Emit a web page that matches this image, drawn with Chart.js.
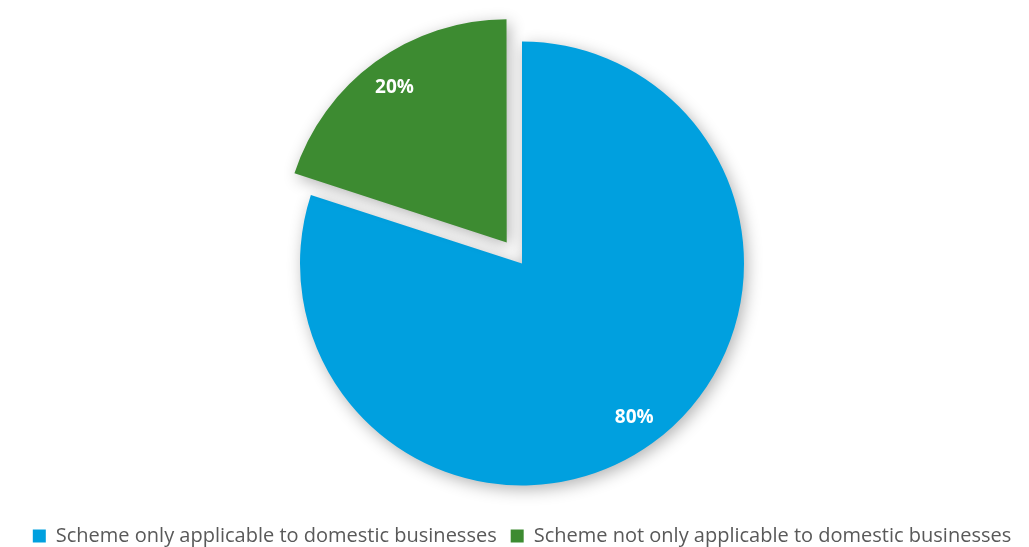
<!DOCTYPE html>
<html>
<head>
<meta charset="utf-8">
<script src="https://cdn.jsdelivr.net/npm/chart.js@4"></script>
<style>
  html, body { margin: 0; padding: 0; background: #fff; overflow: hidden; }
  #wrap { width: 1029px; height: 556px; }
</style>
</head>
<body>
<div id="wrap"><canvas id="pieChart"></canvas></div>
<script>
// ===== DATA =====
const categories = [
  "Scheme only applicable to domestic businesses",
  "Scheme not only applicable to domestic businesses"
];
const shares = [80, 20];

// ===== PLUGINS =====
// soft shadow under the slices
const softShadow = {
  id: "softShadow",
  beforeDatasetDraw(chart) {
    const c = chart.ctx;
    c.save();
    c.shadowColor = "rgba(0,0,0,0.3)";
    c.shadowBlur = 16;
    c.shadowOffsetX = 3;
    c.shadowOffsetY = 4;
  },
  afterDatasetDraw(chart) {
    chart.ctx.restore();
  }
};

// percentage labels inside each slice
const pctLabels = {
  id: "pctLabels",
  afterDatasetsDraw(chart) {
    const ctx = chart.ctx;
    const meta = chart.getDatasetMeta(0);
    const total = shares.reduce((s, v) => s + v, 0);
    ctx.save();
    ctx.fillStyle = "#fff";
    ctx.font = "bold 19px 'Open Sans'";
    ctx.textAlign = "center";
    ctx.textBaseline = "middle";
    meta.data.forEach((arc, i) => {
      const p = arc.getProps(["x", "y", "startAngle", "endAngle", "outerRadius"], true);
      const mid = (p.startAngle + p.endAngle) / 2;
      const shift = (arc.options.offset || 0) / 4; // chart.js moves the slice by offset/4
      const d = shift + p.outerRadius * 0.86;
      const txt = Math.round(shares[i] / total * 100) + "%";
      ctx.fillText(txt, p.x + Math.cos(mid) * d, p.y + Math.sin(mid) * d);
    });
    ctx.restore();
  }
};

// ===== CHART =====
new Chart(document.getElementById("pieChart"), {
  type: "pie",
  data: {
    labels: categories,
    datasets: [{
      data: shares,
      backgroundColor: ["#00A0DF", "#3D8B31"],
      borderWidth: 0,
      offset: [0, 104],
      hoverOffset: 0,
      radius: 222
    }]
  },
  options: {
    responsive: true,
    maintainAspectRatio: false,
    animation: false,
    layout: { padding: { top: 15, left: 15, right: 0, bottom: 0 } },
    plugins: {
      tooltip: { enabled: false },
      legend: {
        position: "bottom",
        labels: {
          boxWidth: 13,
          boxHeight: 13,
          padding: 14,
          color: "#595959",
          font: { family: "'Open Sans'", size: 20 }
        }
      }
    }
  },
  plugins: [softShadow, pctLabels]
});
</script>
</body>
</html>
